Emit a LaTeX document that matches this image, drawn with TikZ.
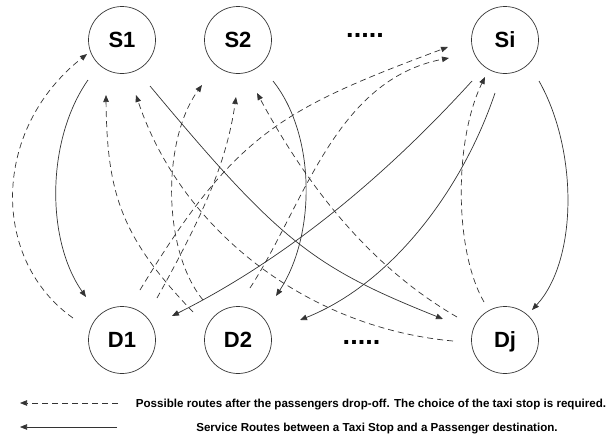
\documentclass[tikz,border=0pt]{standalone}
\usepackage{fontspec}
\setmainfont{Liberation Sans}
\usetikzlibrary{arrows.meta,calc}
\definecolor{route}{HTML}{333333}
\begin{document}
\begin{tikzpicture}[x=1pt,y=-1pt,
  site/.style={circle, draw=route, line width=0.7pt, minimum size=67pt, inner sep=0pt,
    font=\fontsize{22}{26}\selectfont\bfseries, text height=15.8pt, text depth=0pt},
  service/.style={draw=route, line width=0.7pt, -{Triangle[length=7pt,width=5.5pt]}},
  backroute/.style={service, dash pattern=on 6pt off 4pt},
  legend/.style={font=\fontsize{11.6}{14}\selectfont\bfseries, text height=8.3pt, text depth=0pt, inner sep=0pt},
  more/.style={font=\fontsize{27}{30}\selectfont\bfseries, anchor=base, inner sep=0pt}
]
\useasboundingbox (0,0) rectangle (608,434);

% taxi stops and passenger destinations
\node[site] (S1) at (122,40) {S1};
\node[site] (S2) at (238,40) {S2};
\node[site] (Si) at (505,40) {Si};
\node[site] (D1) at (122,340) {D1};
\node[site] (D2) at (238,340) {D2};
\node[site] (Dj) at (505,340) {Dj};
\node[more] (topdots) at (365,37) {.....};
\node[more] (botdots) at (361.5,344) {.....};

% service routes: taxi stop -> destination
\draw[service] ($(S1)+(-34,40)$) .. controls (46,140) and (46,240) .. ($(D1)+(-36,-43)$);
\draw[service] ($(S1)+(28,46)$) .. controls (280,242) and (313,267) .. ($(Dj)+(-62,-21)$);
\draw[service] ($(S2)+(35,41)$) .. controls (316,135) and (316,235) .. ($(D2)+(38,-44)$);
\draw[service] ($(Si)+(-33,41)$) .. controls (372,191) and (272,266) .. ($(D1)+(50,-24)$);
\draw[service] ($(Si)+(-10,53)$) .. controls (463,188) and (393,283) .. ($(D2)+(62,-20)$);
\draw[service] ($(Si)+(34,41)$) .. controls (578,150) and (578,260) .. ($(Dj)+(27,-30)$);

% routes after drop-off: destination -> taxi stop
\draw[backroute] ($(D1)+(-49,-22)$) .. controls (-9,260) and (-9,130) .. ($(S1)+(-35,14)$);
\draw[backroute] ($(D1)+(35,-42)$) .. controls (205,212) and (227,160) .. ($(S2)+(-2,57)$);
\draw[backroute] ($(D1)+(18,-50)$) .. controls (234,135) and (279,110) .. ($(Si)+(-57,7)$);
\draw[backroute] ($(D2)+(-45,-28)$) .. controls (122,238) and (107,195) .. ($(S1)+(-16,55)$);
\draw[backroute] ($(D2)+(-35,-40)$) .. controls (162,250) and (162,140) .. ($(S2)+(-36,45)$);
\draw[backroute] ($(D2)+(12,-52)$) .. controls (304,205) and (335,80) .. ($(Si)+(-56,18)$);
\draw[backroute] ($(Dj)+(-52,1)$) .. controls (309,328) and (182,232) .. ($(S1)+(14,55)$);
\draw[backroute] ($(Dj)+(-48,-23)$) .. controls (367,265) and (305,182) .. ($(S2)+(19,53)$);
\draw[backroute] ($(Dj)+(-21,-38)$) .. controls (454,250) and (454,140) .. ($(Si)+(-20,37)$);

% legend
\coordinate (k1) at (118,403);
\coordinate (k1e) at (20,403);
\draw[backroute] (k1) -- (k1e);
\node[legend] (t1) at (371,403) {Possible routes after the passengers drop-off. The choice of the taxi stop is required.};
\coordinate (k2) at (117,427);
\coordinate (k2e) at (20,427);
\draw[service] (k2) -- (k2e);
\node[legend] (t2) at (377,427) {Service Routes between a Taxi Stop and a Passenger destination.};
\end{tikzpicture}
\end{document}
